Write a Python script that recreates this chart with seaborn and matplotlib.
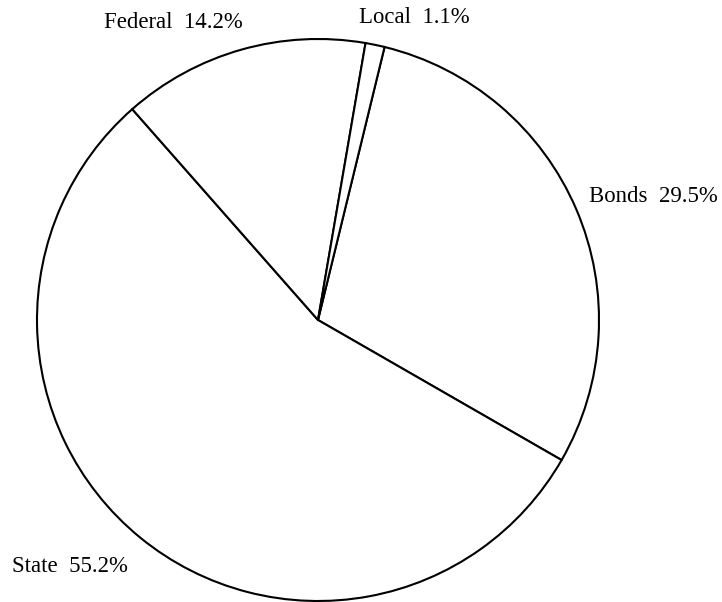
import matplotlib
matplotlib.use("Agg")
import matplotlib.pyplot as plt
import seaborn as sns

# Revenue sources (percent of total)
sources = ['Bonds', 'State', 'Federal', 'Local']
shares = [29.5, 55.2, 14.2, 1.1]

sns.set_theme(style='white')
plt.rcParams['font.family'] = ['Liberation Serif', 'DejaVu Serif']

fig = plt.figure(figsize=(7.22, 6.02), dpi=100)
ax = fig.add_axes([0, 0, 1, 1])

wedges, _ = ax.pie(shares, startangle=76.3, counterclock=False,
                   colors=['white'] * len(shares),
                   wedgeprops=dict(edgecolor='black', linewidth=1.5))

# pie centre at (318, 320) px, radius 281 px
r = 281
ax.set_xlim(-318 / r, (722 - 318) / r)
ax.set_ylim(-(602 - 320) / r, 320 / r)
ax.axis('off')

# label anchors (pie units) and alignment
label_pos = [(0.964, 0.438, 'left'), (-1.090, -0.879, 'left'),
             (-0.267, 1.060, 'right'), (0.541, 1.078, 'right')]
for name, val, (x, y, ha) in zip(sources, shares, label_pos):
    ax.text(x, y, f'{name}  {val:.1f}%', ha=ha, va='center', fontsize=16.4, color='black')

fig.savefig('out.png', dpi=100, facecolor='white')
